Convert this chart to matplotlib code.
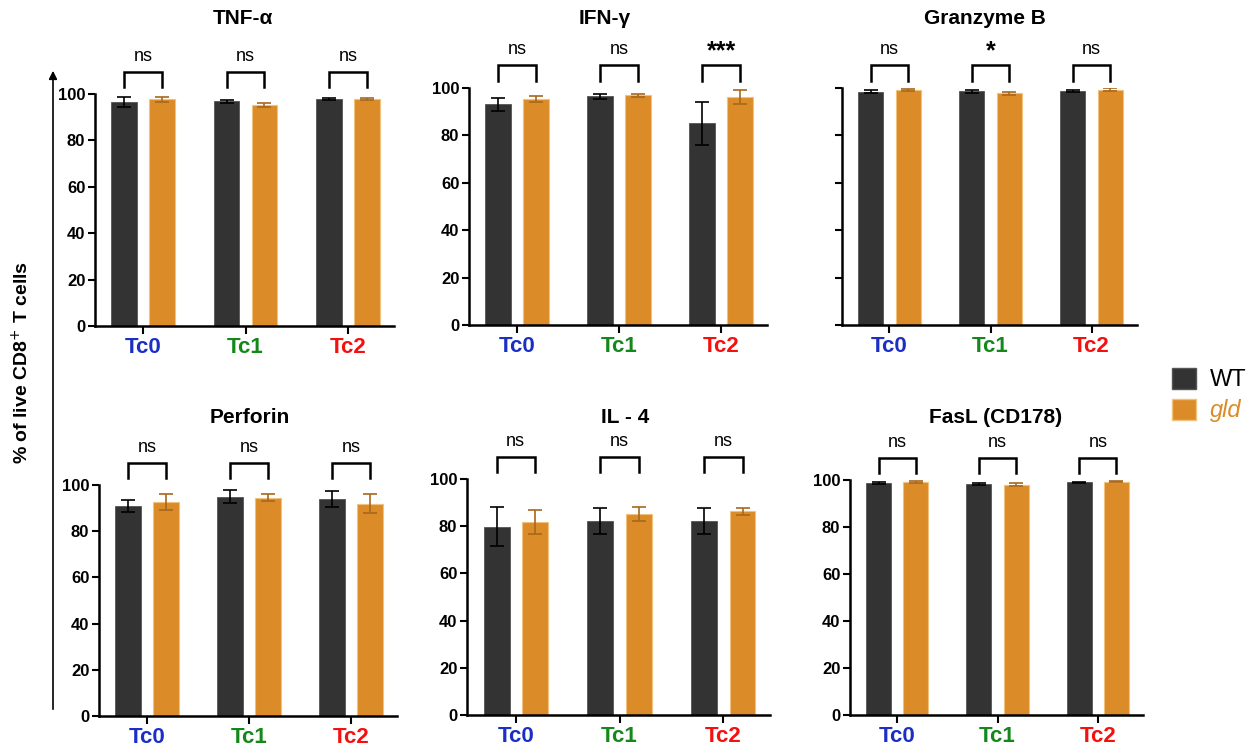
import numpy as np
import matplotlib
matplotlib.use("Agg")
import matplotlib.pyplot as plt
from matplotlib.patches import Patch, FancyArrowPatch

plt.rcParams['font.family'] = ['Liberation Sans', 'DejaVu Sans']

groups = ['Tc0', 'Tc1', 'Tc2']
group_colors = ['#1b2fc6', '#15881c', '#f5100f']

titles = ['TNF-\u03b1', 'IFN-\u03b3', 'Granzyme B', 'Perforin', 'IL - 4', 'FasL (CD178)']

# mean and error for WT and gld, per cytokine
tnf_wt = [96.5, 96.8, 97.7]
tnf_wt_err = [2.3, 0.5, 0.5]
tnf_gld = [97.7, 95.3, 97.9]
tnf_gld_err = [1.1, 1.0, 0.3]

ifn_wt = [93.2, 96.5, 85.1]
ifn_wt_err = [2.7, 1.1, 9.0]
ifn_gld = [95.4, 97.0, 96.1]
ifn_gld_err = [1.1, 0.6, 3.0]

gzmb_wt = [98.5, 98.6, 98.7]
gzmb_wt_err = [0.5, 0.5, 0.5]
gzmb_gld = [99.0, 97.7, 99.3]
gzmb_gld_err = [0.4, 0.6, 0.7]

prf_wt = [91.0, 94.9, 93.8]
prf_wt_err = [2.7, 2.8, 3.5]
prf_gld = [92.8, 94.5, 91.9]
prf_gld_err = [3.5, 1.6, 4.1]

il4_wt = [79.8, 82.3, 82.3]
il4_wt_err = [8.2, 5.5, 5.4]
il4_gld = [81.8, 85.3, 86.4]
il4_gld_err = [5.0, 3.0, 1.5]

fasl_wt = [98.7, 98.3, 99.0]
fasl_wt_err = [0.3, 0.3, 0.2]
fasl_gld = [99.0, 98.0, 99.3]
fasl_gld_err = [0.4, 0.6, 0.2]

signif = [['ns', 'ns', 'ns'],
          ['ns', 'ns', '***'],
          ['ns', '*', 'ns'],
          ['ns', 'ns', 'ns'],
          ['ns', 'ns', 'ns'],
          ['ns', 'ns', 'ns']]

panels = [
    (tnf_wt, tnf_wt_err, tnf_gld, tnf_gld_err),
    (ifn_wt, ifn_wt_err, ifn_gld, ifn_gld_err),
    (gzmb_wt, gzmb_wt_err, gzmb_gld, gzmb_gld_err),
    (prf_wt, prf_wt_err, prf_gld, prf_gld_err),
    (il4_wt, il4_wt_err, il4_gld, il4_gld_err),
    (fasl_wt, fasl_wt_err, fasl_gld, fasl_gld_err),
]

WT_COLOR = '#333333'
GLD_COLOR = '#db8b27'

W, H = 1254, 750
fig = plt.figure(figsize=(W / 100, H / 100), dpi=100)

# axes boxes in pixels: left, right, top (y=100), bottom (y=0)
boxes = [(95, 394, 94, 326), (469, 767, 88, 325), (842, 1137, 88, 325),
         (99, 397, 485, 716), (467, 770, 479, 715), (850, 1143, 480, 715)]
# title centres in pixels
title_pos = [(243, 19), (605, 19), (985, 19), (250, 417), (625, 417), (996, 417)]


def px_axes(l, r, t, b):
    return fig.add_axes([l / W, 1 - b / H, (r - l) / W, (b - t) / H])


x = np.arange(len(groups))
bw = 0.25
off = 0.185

for i, (wt, wt_err, gld, gld_err) in enumerate(panels):
    ax = px_axes(*boxes[i])
    ax.bar(x - off, wt, bw, color=WT_COLOR, edgecolor='#555555', linewidth=0.6, zorder=2)
    ax.bar(x + off, gld, bw, color=GLD_COLOR, edgecolor='#f0c27e', linewidth=0.8, zorder=2)
    ax.errorbar(x - off, wt, yerr=wt_err, fmt='none', ecolor='black',
                elinewidth=1.2, capsize=5, capthick=1.2, zorder=3)
    ax.errorbar(x + off, gld, yerr=gld_err, fmt='none', ecolor='#a8671c',
                elinewidth=1.2, capsize=5, capthick=1.2, zorder=3)

    ax.set_xlim(-0.47, 2.45)
    ax.set_ylim(0, 100)
    ax.set_yticks([0, 20, 40, 60, 80, 100])
    ax.set_xticks(x)
    ax.set_xticklabels(groups, fontsize=16, fontweight='bold')
    for lab, c in zip(ax.get_xticklabels(), group_colors):
        lab.set_color(c)
    if i == 2:
        ax.set_yticklabels([])
    else:
        for lab in ax.get_yticklabels():
            lab.set_fontsize(12)
            lab.set_fontweight('bold')
    ax.tick_params(axis='y', length=5, width=1.5, pad=2)
    ax.tick_params(axis='x', length=6, width=1.5, pad=2)
    for s in ['top', 'right']:
        ax.spines[s].set_visible(False)
    for s in ['left', 'bottom']:
        ax.spines[s].set_linewidth(1.8)

    # significance brackets
    for j in range(len(groups)):
        x0, x1 = x[j] - off, x[j] + off
        ax.plot([x0, x0, x1, x1], [103, 109.5, 109.5, 103], color='black',
                lw=1.8, clip_on=False, solid_joinstyle='miter')
        lab = signif[i][j]
        if lab == 'ns':
            ax.text(x[j], 112.5, lab, ha='center', va='bottom', fontsize=13, clip_on=False)
        else:
            ax.text(x[j], 110.5, lab, ha='center', va='bottom', fontsize=18,
                    fontweight='bold', clip_on=False)

    tx, ty = title_pos[i]
    fig.text(tx / W, 1 - ty / H, titles[i], ha='center', va='center',
             fontsize=15, fontweight='bold')

# shared y label with arrow
fig.text(22 / W, 1 - 362 / H, '% of live CD8$^{+}$ T cells', rotation=90,
         ha='center', va='center', fontsize=14, fontweight='bold')
fig.add_artist(FancyArrowPatch(
    (53 / W, 1 - 712 / H), (53 / W, 1 - 68 / H), transform=fig.transFigure,
    arrowstyle='-|>', mutation_scale=12, lw=1.2, color='black'))

# legend
handles = [Patch(facecolor=WT_COLOR, edgecolor='#555555'),
           Patch(facecolor=GLD_COLOR, edgecolor='#f0c27e')]
leg = fig.legend(handles, ['WT', 'gld'], loc='center left',
                 bbox_to_anchor=(1172 / W, 1 - 395 / H), frameon=False,
                 borderpad=0, borderaxespad=0,
                 fontsize=17, handlelength=1.0, handleheight=1.0,
                 handletextpad=0.6, labelspacing=0.3)
txts = leg.get_texts()
txts[1].set_color(GLD_COLOR)
txts[1].set_style('italic')

fig.savefig('out.png', dpi=100)
